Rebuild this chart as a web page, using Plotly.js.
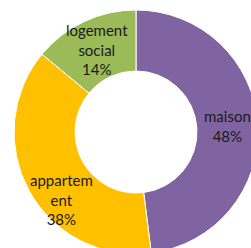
<!DOCTYPE html>
<html><head><meta charset="utf-8">
<script src="https://cdn.plot.ly/plotly-3.0.1.min.js"></script>
<style>html,body{margin:0;padding:0;overflow:hidden;width:251px;height:248px;background:#fff}#c{width:300px;height:300px}</style>
</head><body><div id="c"></div>
<script>
const labels = ["maison", "appartement", "logement social"];
const textLabels = ["maison", "appartem<br>ent", "logement<br>social"];
const values = [48, 38, 14];
const colors = ["#8064A2", "#FFC000", "#9BBB59"];

const W = 300, H = 300, cx = 136, cy = 132, r = 122;
const labelShift = [[0, 0], [6, 23], [0, 0]];
const total = values.reduce((a, b) => a + b, 0);
let cum = 0;
const annotations = values.map((v, i) => {
  const th = 2 * Math.PI * (cum + v / 2) / total;
  cum += v;
  const rm = 0.75 * r;
  const px = cx + rm * Math.sin(th) + labelShift[i][0];
  const py = cy - rm * Math.cos(th) + labelShift[i][1];
  return {
    x: px / W, y: 1 - py / H, xref: 'paper', yref: 'paper', showarrow: false,
    xanchor: 'center', yanchor: 'middle', align: 'center',
    text: textLabels[i] + '<br>' + Math.round(100 * v / total) + '%',
    font: {family: 'Lato, "Open Sans", sans-serif', size: 15, color: '#1a1a1a'}
  };
});

Plotly.newPlot('c', [{
  type: 'pie', labels: labels, values: values, hole: 0.5, sort: false, direction: 'clockwise', rotation: 0,
  textinfo: 'none',
  marker: {colors: colors, line: {color: '#ffffff', width: 1}},
  domain: {x: [(cx - r) / W, (cx + r) / W], y: [1 - (cy + r) / H, 1 - (cy - r) / H]},
  hoverinfo: 'none'
}], {
  width: W, height: H, margin: {l: 0, r: 0, t: 0, b: 0}, showlegend: false,
  paper_bgcolor: '#fff', font: {family: 'Lato, sans-serif'}, annotations: annotations
}, {staticPlot: true});
</script></body></html>
